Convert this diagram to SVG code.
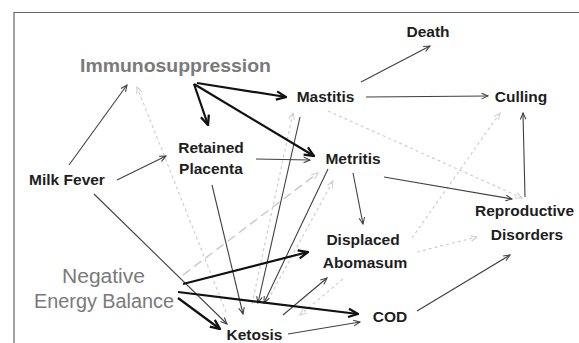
<svg xmlns="http://www.w3.org/2000/svg" width="579" height="343" viewBox="0 0 579 343">
<defs>
<style>
.t{font-family:"Liberation Sans",Arial,sans-serif;font-weight:bold;font-size:15.5px;fill:#1e1e1e;text-anchor:middle}
.g{font-family:"Liberation Sans",Arial,sans-serif;fill:#7a7a7a;text-anchor:middle}
.thin{stroke:#404040;stroke-width:1.1;fill:none;marker-end:url(#ah)}
.thick{stroke:#111;stroke-width:2.2;fill:none;marker-end:url(#ahb)}
.faint{stroke:#cfcfcf;stroke-width:1.2;fill:none;stroke-dasharray:3 3;marker-end:url(#ahf)}
.dash{stroke:#c8c8c8;stroke-width:1.4;fill:none;stroke-dasharray:9 5;marker-end:url(#ahf)}
</style>
<marker id="ah" viewBox="0 0 10 10" refX="9" refY="5" markerWidth="8" markerHeight="8" orient="auto" markerUnits="userSpaceOnUse"><path d="M1,1.5 L9,5 L1,8.5" fill="none" stroke="#404040" stroke-width="1.3"/></marker>
<marker id="ahb" viewBox="0 0 10 10" refX="9" refY="5" markerWidth="12" markerHeight="12" orient="auto" markerUnits="userSpaceOnUse"><path d="M1,1.5 L9,5 L1,8.5" fill="none" stroke="#111" stroke-width="1.9"/></marker>
<marker id="ahf" viewBox="0 0 10 10" refX="9" refY="5" markerWidth="8" markerHeight="8" orient="auto" markerUnits="userSpaceOnUse"><path d="M1,1.5 L9,5 L1,8.5" fill="none" stroke="#cfcfcf" stroke-width="1.3"/></marker>
</defs>
<rect width="579" height="343" fill="#fff"/>
<path d="M14,343 L14,12.5 L579,12.5" fill="none" stroke="#666" stroke-width="1.2"/>
<g id="connectors">
<!-- faint -->
<line class="faint" x1="226" y1="312" x2="137" y2="87"/>
<line class="dash" x1="183" y1="275" x2="318" y2="173"/>
<line class="faint" x1="268" y1="300" x2="333" y2="181"/>
<line class="faint" x1="252" y1="304" x2="293" y2="113"/>
<line class="faint" x1="343" y1="279" x2="300" y2="315"/>
<line class="faint" x1="328" y1="111" x2="522" y2="198"/>
<line class="faint" x1="412" y1="238" x2="500" y2="113"/>
<line class="faint" x1="417" y1="252" x2="477" y2="237"/>
<!-- thin -->
<line class="thin" x1="69" y1="165" x2="127" y2="85"/>
<line class="thin" x1="117" y1="180" x2="166" y2="156"/>
<line class="thin" x1="94" y1="194" x2="227" y2="324"/>
<line class="thin" x1="212" y1="185" x2="243" y2="314"/>
<line class="thin" x1="256" y1="159" x2="310" y2="160"/>
<line class="thin" x1="300" y1="117" x2="258" y2="303"/>
<line class="thin" x1="328" y1="169" x2="264" y2="303"/>
<line class="thin" x1="353" y1="173" x2="363" y2="224"/>
<line class="thin" x1="384" y1="177" x2="512" y2="199"/>
<line class="thin" x1="361" y1="82" x2="430" y2="46"/>
<line class="thin" x1="366" y1="97" x2="488" y2="96"/>
<line class="thin" x1="525" y1="197" x2="523" y2="113"/>
<line class="thin" x1="417" y1="311" x2="510" y2="255"/>
<line class="thin" x1="288" y1="334" x2="360" y2="322"/>
<line class="thin" x1="283" y1="315" x2="327" y2="278"/>
<!-- thick -->
<line class="thick" x1="197" y1="83" x2="286" y2="97"/>
<line class="thick" x1="194" y1="84" x2="208" y2="125"/>
<line class="thick" x1="194" y1="84" x2="314" y2="156"/>
<line class="thick" x1="183" y1="284" x2="308" y2="252"/>
<line class="thick" x1="178" y1="292" x2="358" y2="314"/>
<line class="thick" x1="178" y1="298" x2="220" y2="329"/>
</g>
<g id="death"><text class="t" x="428" y="37">Death</text></g>
<g id="immunosuppression"><text class="g" x="175.5" y="72" font-size="18.5" font-weight="bold" textLength="191" lengthAdjust="spacingAndGlyphs">Immunosuppression</text></g>
<g id="mastitis"><text class="t" x="325.5" y="102">Mastitis</text></g>
<g id="culling"><text class="t" x="521" y="102">Culling</text></g>
<g id="retained-placenta"><text class="t" x="211" y="153">Retained</text><text class="t" x="211" y="174">Placenta</text></g>
<g id="metritis"><text class="t" x="353" y="164">Metritis</text></g>
<g id="milk-fever"><text class="t" x="67" y="185">Milk Fever</text></g>
<g id="reproductive-disorders"><text class="t" x="524.5" y="216">Reproductive</text><text class="t" x="527" y="240">Disorders</text></g>
<g id="displaced-abomasum"><text class="t" x="363" y="245">Displaced</text><text class="t" x="365" y="268">Abomasum</text></g>
<g id="cod"><text class="t" x="390" y="322">COD</text></g>
<g id="negative-energy-balance"><text class="g" x="103.5" y="283" font-size="19.5" textLength="83" lengthAdjust="spacingAndGlyphs">Negative</text><text class="g" x="104" y="308" font-size="19.5" textLength="140" lengthAdjust="spacingAndGlyphs">Energy Balance</text></g>
<g id="ketosis"><text class="t" x="254.5" y="340">Ketosis</text></g>
</svg>
